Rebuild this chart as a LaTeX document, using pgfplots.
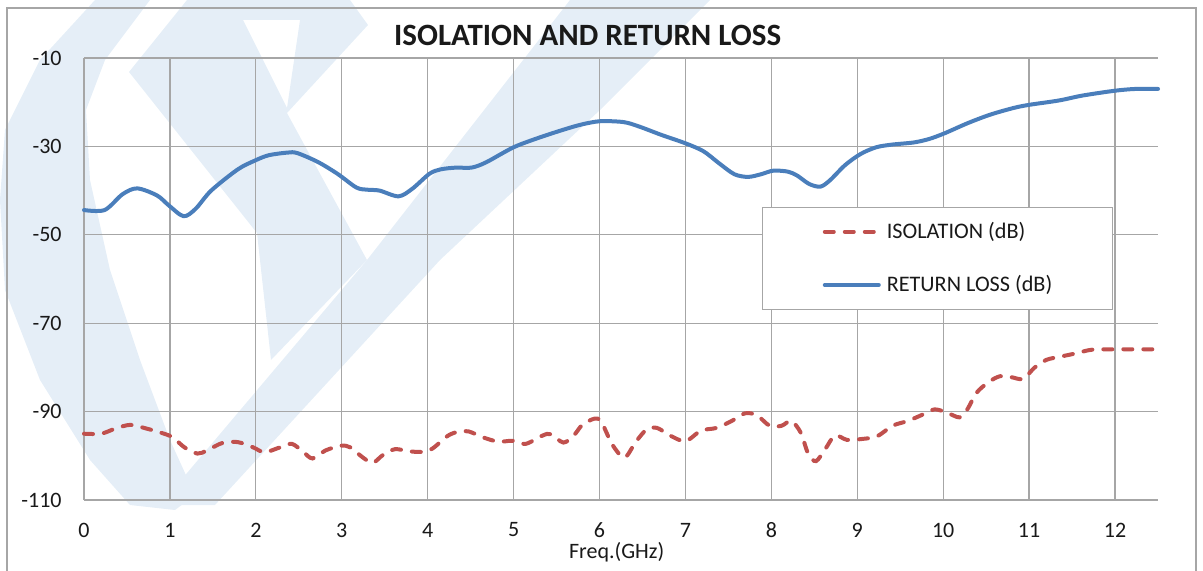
\documentclass[border=0pt]{standalone}
\usepackage{fontspec}
\setmainfont{Carlito}
\usepackage{pgfplots}
\pgfplotsset{compat=1.18}
\definecolor{rlblue}{RGB}{74,126,187}
\definecolor{isored}{RGB}{192,80,77}
\definecolor{gridc}{RGB}{166,166,166}
\definecolor{wm}{RGB}{229,238,247}
\definecolor{txt}{RGB}{25,25,25}
\begin{document}
\begin{tikzpicture}
\begin{scope}[x=0.5pt,y=-0.5pt]
\path[use as bounding box] (0,0) rectangle (1203,571);
% watermark (approximate logo)
\fill[wm] (95,0) -- (150,0) -- (105,60) -- (86,110) -- (90,180) -- (110,270) -- (140,360) -- (170,440) -- (195,495) -- (175,510) -- (130,505) -- (90,460) -- (40,380) -- (5,290) -- (0,200) -- (5,130) -- (40,60) -- cycle;
\fill[wm, even odd rule] (129,72) -- (187,0) -- (350,0) -- (368,25) -- (287,113) -- (367,260) -- (271,360) -- (257,233) -- cycle
   (243,20) -- (300,20) -- (287,108) -- cycle;
\fill[wm] (570,0) -- (710,0) -- (600,110) -- (440,260) -- (215,505) -- (160,505) -- (367,260) -- cycle;
% outer frame
\draw[gridc, line width=0.6pt] (7,571) -- (7,8) -- (1196,8) -- (1196,571);
\end{scope}
\begin{axis}[
  at={(42pt,-250pt)}, anchor=south west,
  scale only axis, width=537pt, height=221pt,
  xmin=0, xmax=12.5, ymin=-110, ymax=-10,
  xtick={0,1,...,12}, ytick={-110,-90,-70,-50,-30,-10},
  grid=major, grid style={gridc, line width=0.65pt},
  axis line style={draw=none},
  major tick length=0pt,
  clip=false,
  /pgf/number format/assume math mode=true,
  tick label style={font=\fontsize{11}{13}\selectfont, text=txt},
  xticklabel style={anchor=center, inner sep=0pt, yshift=-15pt},
  yticklabel style={anchor=east, inner sep=0pt, xshift=-11pt},
  title={ISOLATION AND RETURN LOSS},
  title style={at={(0.469,1)}, anchor=center, yshift=5.5pt, font=\fontsize{15.5}{18}\selectfont\bfseries, text=txt},
  xlabel={Freq.(GHz)},
  xlabel style={at={(0.496,0)}, anchor=center, yshift=-26pt, font=\fontsize{11}{13}\selectfont, text=txt},
  legend style={at={(axis cs:7.893,-43.6)}, anchor=north west, draw=gridc, line width=0.6pt, fill=white,
    font=\fontsize{11.1}{13}\selectfont, text=txt, inner xsep=30pt, inner ysep=7.5pt, row sep=17pt, column sep=3pt,
    nodes={inner sep=0pt}},
  legend cell align=left,
  legend image code/.code={\draw[#1, line cap=round] (1pt,0pt) -- (28pt,0pt);},
]
\addplot[isored, line width=2pt, smooth, tension=0.5, dash pattern=on 4.5pt off 5.5pt, line cap=round] coordinates {
(0,-95.0) (0.20,-95.0) (0.37,-93.8) (0.54,-93.0) (0.72,-93.8) (0.90,-94.8) (1.03,-95.8) (1.17,-98.1) (1.32,-99.5) (1.43,-98.8) (1.61,-97.1) (1.79,-96.9) (1.97,-98.1) (2.10,-99.2) (2.28,-98.1) (2.42,-97.3) (2.55,-99.1) (2.66,-100.6) (2.81,-98.8) (2.99,-97.7) (3.10,-98.1) (3.24,-100.3) (3.36,-101.6) (3.48,-99.8) (3.62,-98.5) (3.79,-99.0) (3.95,-99.1) (4.06,-98.3) (4.24,-95.4) (4.37,-94.5) (4.48,-94.5) (4.64,-95.8) (4.82,-96.8) (4.99,-96.6) (5.14,-97.3) (5.34,-95.4) (5.43,-95.1) (5.58,-97.0) (5.70,-95.4) (5.80,-93.0) (5.94,-91.6) (6.02,-92.3) (6.15,-97.5) (6.29,-100.4) (6.42,-96.9) (6.55,-94.0) (6.67,-93.7) (6.82,-95.4) (7.0,-96.7) (7.18,-94.3) (7.36,-93.7) (7.54,-92.1) (7.69,-90.4) (7.83,-90.8) (7.98,-93.2) (8.12,-93.2) (8.23,-92.1) (8.34,-94.7) (8.43,-99.6) (8.52,-101.2) (8.63,-98.4) (8.74,-95.4) (8.88,-96.4) (9.05,-96.2) (9.23,-95.6) (9.41,-93.2) (9.59,-92.1) (9.77,-90.6) (9.90,-89.5) (10.04,-90.2) (10.19,-91.3) (10.28,-89.5) (10.39,-85.7) (10.53,-83.3) (10.66,-82.0) (10.79,-82.2) (10.93,-82.6) (11.06,-80.1) (11.20,-78.3) (11.38,-77.5) (11.55,-76.8) (11.73,-76.0) (12.0,-75.9) (12.5,-75.9)
};
\addlegendentry{ISOLATION (dB)}
\addplot[rlblue, line width=2pt, smooth, tension=0.5, line cap=round, line join=round] coordinates {
(0,-44.4) (0.24,-44.4) (0.45,-40.8) (0.62,-39.5) (0.85,-41.1) (0.99,-43.4) (1.16,-45.8) (1.30,-44.1) (1.48,-40.0) (1.79,-35.2) (1.99,-33.2) (2.15,-32.0) (2.37,-31.4) (2.48,-31.5) (2.72,-33.5) (2.95,-36.2) (3.17,-39.3) (3.30,-39.8) (3.44,-40.0) (3.66,-41.3) (3.82,-39.6) (4.02,-36.2) (4.15,-35.2) (4.33,-34.8) (4.51,-34.8) (4.68,-33.6) (5.0,-30.2) (5.3,-28.0) (5.6,-26.1) (5.8,-25.0) (6.01,-24.3) (6.28,-24.5) (6.46,-25.5) (6.72,-27.4) (7.0,-29.3) (7.21,-31.1) (7.39,-33.8) (7.57,-36.3) (7.73,-36.9) (7.88,-36.3) (8.02,-35.5) (8.19,-35.7) (8.30,-36.6) (8.44,-38.5) (8.57,-39.1) (8.68,-37.7) (8.86,-34.2) (9.04,-31.7) (9.22,-30.2) (9.40,-29.6) (9.66,-29.1) (9.84,-28.3) (10.02,-27.0) (10.29,-24.7) (10.55,-22.8) (10.82,-21.3) (11.0,-20.6) (11.35,-19.6) (11.62,-18.5) (12.0,-17.4) (12.24,-17.0) (12.5,-17.0)
};
\addlegendentry{RETURN LOSS (dB)}
\end{axis}
\end{tikzpicture}
\end{document}
